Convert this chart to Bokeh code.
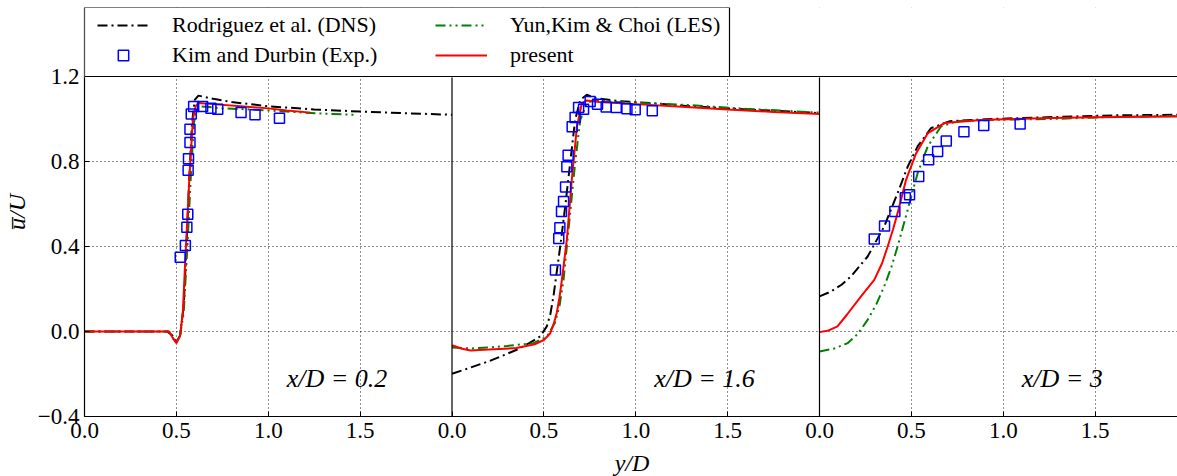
from bokeh.plotting import figure
from bokeh.models import (Range1d, FixedTicker, CustomJSTickFormatter, Span, Label,
                          Legend, LegendItem, BoxAnnotation)
from bokeh.embed import file_html
from bokeh.resources import INLINE

# ---------------- data ----------------
# x/D = 0.2
dns02_y = [0.0, 0.45, 0.48, 0.50, 0.52, 0.54, 0.555, 0.57, 0.585, 0.60, 0.62, 0.70, 0.80, 1.00, 1.25, 1.50, 1.75, 2.00]
dns02_u = [0.0, 0.0, -0.02, -0.05, -0.02, 0.12, 0.40, 0.72, 0.98, 1.09, 1.11, 1.095, 1.08, 1.06, 1.045, 1.035, 1.027, 1.02]
les02_y = [0.0, 0.46, 0.48, 0.50, 0.52, 0.54, 0.56, 0.578, 0.595, 0.61, 0.63, 0.75, 0.90, 1.10, 1.30, 1.47]
les02_u = [0.0, 0.0, -0.03, -0.05, -0.02, 0.09, 0.40, 0.72, 0.98, 1.04, 1.06, 1.05, 1.045, 1.035, 1.025, 1.02]
pre02_y = [0.0, 0.46, 0.48, 0.50, 0.52, 0.535, 0.552, 0.57, 0.59, 0.605, 0.62, 0.70, 0.85, 1.00, 1.10, 1.23]
pre02_u = [0.0, 0.0, -0.03, -0.055, -0.02, 0.09, 0.40, 0.71, 1.00, 1.06, 1.075, 1.07, 1.06, 1.05, 1.04, 1.03]
exp02_y = [0.521, 0.549, 0.557, 0.562, 0.564, 0.566, 0.574, 0.574, 0.581, 0.594, 0.643, 0.688, 0.725, 0.852, 0.928, 1.061]
exp02_u = [0.350, 0.405, 0.491, 0.552, 0.759, 0.813, 0.889, 0.952, 1.023, 1.059, 1.059, 1.051, 1.046, 1.031, 1.020, 1.004]

# x/D = 1.6
dns16_y = [0.0, 0.10, 0.20, 0.30, 0.352, 0.42, 0.48, 0.516, 0.535, 0.552, 0.57, 0.589, 0.616, 0.643, 0.670, 0.698, 0.734, 0.77, 0.90, 1.079, 1.30, 1.60, 2.00]
dns16_u = [-0.199, -0.17, -0.14, -0.105, -0.086, -0.055, -0.023, 0.024, 0.08, 0.165, 0.28, 0.40, 0.588, 0.792, 0.996, 1.09, 1.114, 1.10, 1.085, 1.075, 1.06, 1.045, 1.028]
les16_y = [0.0, 0.10, 0.20, 0.30, 0.443, 0.516, 0.56, 0.585, 0.607, 0.643, 0.670, 0.698, 0.734, 0.77, 0.90, 1.26, 1.60, 2.00]
les16_u = [-0.075, -0.08, -0.075, -0.068, -0.055, -0.025, 0.04, 0.12, 0.243, 0.557, 0.792, 0.996, 1.075, 1.087, 1.08, 1.067, 1.048, 1.03]
pre16_y = [0.0, 0.05, 0.10, 0.20, 0.35, 0.45, 0.50, 0.535, 0.555, 0.57, 0.585, 0.598, 0.625, 0.652, 0.68, 0.707, 0.734, 0.80, 1.00, 1.25, 1.50, 1.75, 2.00]
pre16_u = [-0.065, -0.08, -0.089, -0.085, -0.078, -0.06, -0.04, -0.008, 0.04, 0.087, 0.16, 0.243, 0.432, 0.714, 0.965, 1.075, 1.087, 1.08, 1.07, 1.058, 1.045, 1.033, 1.023]
exp16_y = [0.563, 0.581, 0.587, 0.596, 0.607, 0.618, 0.625, 0.632, 0.654, 0.670, 0.689, 0.716, 0.752, 0.792, 0.839, 0.894, 0.952, 0.997, 1.090]
exp16_u = [0.290, 0.438, 0.488, 0.565, 0.612, 0.680, 0.775, 0.830, 0.963, 1.007, 1.054, 1.046, 1.082, 1.070, 1.056, 1.054, 1.048, 1.043, 1.039]

# x/D = 3
dns30_y = [0.0, 0.062, 0.12, 0.171, 0.262, 0.352, 0.425, 0.48, 0.534, 0.607, 0.71, 0.93, 1.30, 1.60, 1.96]
dns30_u = [0.165, 0.188, 0.22, 0.259, 0.353, 0.494, 0.651, 0.776, 0.871, 0.957, 0.99, 1.0, 1.01, 1.017, 1.02]
les30_y = [0.0, 0.08, 0.153, 0.21, 0.262, 0.31, 0.352, 0.39, 0.425, 0.48, 0.534, 0.589, 0.661, 0.75, 1.00, 1.26, 1.60, 1.96]
les30_u = [-0.094, -0.08, -0.055, -0.01, 0.055, 0.13, 0.212, 0.30, 0.40, 0.573, 0.745, 0.871, 0.965, 0.99, 0.997, 1.0, 1.01, 1.015]
pre30_y = [0.0, 0.05, 0.098, 0.15, 0.226, 0.298, 0.34, 0.371, 0.40, 0.425, 0.471, 0.526, 0.59, 0.68, 0.90, 1.20, 1.50, 1.96]
pre30_u = [-0.003, 0.005, 0.024, 0.08, 0.165, 0.243, 0.32, 0.40, 0.48, 0.557, 0.714, 0.839, 0.934, 0.981, 0.996, 1.003, 1.008, 1.012]
exp30_y = [0.298, 0.354, 0.410, 0.467, 0.490, 0.540, 0.594, 0.643, 0.690, 0.786, 0.894, 1.092]
exp30_u = [0.435, 0.497, 0.565, 0.629, 0.643, 0.729, 0.808, 0.847, 0.896, 0.940, 0.969, 0.977]

panel_labels = ["x/D = 0.2", "x/D = 1.6", "x/D = 3"]
legend_labels = ["Rodriguez et al. (DNS)", "Kim and Durbin (Exp.)", "Yun,Kim & Choi (LES)", "present"]
y_ticks = [-0.4, 0.0, 0.4, 0.8, 1.2]
x_ticks_panel = [0.0, 0.5, 1.0, 1.5]

# ---------------- styles / geometry ----------------
FONT = "Liberation Serif"
DNS = dict(line_color="black", line_width=2, line_dash="10 4 2 4")
LES = dict(line_color="#008000", line_width=2, line_dash="10 4 2 4 2 4")
PRE = dict(line_color="#ff0000", line_width=2)
EXP = dict(marker="square", size=10, line_color="#0000ff", fill_color=None, line_width=1.5)

LEFT = 82                 # left border (px)
FRAME_W = 1095            # frame width (px)
PANEL_H = 340             # height of the data panels (px)
LEG_H = 69                # height of the legend strip above the panels (px)
LEG_W = 645               # width of the legend box (px)
PX_X = 183.75             # px per y/D unit
PX_Y = PANEL_H / 1.6      # px per u/U unit
PANEL = 2.0
XMAX = FRAME_W / PX_X
YMIN, YPANEL = -0.4, 1.2
YTOP = YPANEL + LEG_H / PX_Y

p = figure(frame_width=FRAME_W, frame_height=PANEL_H + LEG_H,
           x_range=Range1d(0, XMAX), y_range=Range1d(YMIN, YTOP),
           output_backend="svg", toolbar_location=None,
           min_border_left=LEFT, min_border_right=0, min_border_top=7,
           min_border_bottom=60)
p.extra_x_ranges = {
    "p2": Range1d(-PANEL, XMAX - PANEL),
    "p3": Range1d(-2 * PANEL, XMAX - 2 * PANEL),
}
p.outline_line_color = None

all_xticks = [k * PANEL + t for k in range(3) for t in x_ticks_panel if k * PANEL + t < XMAX]
p.xaxis.ticker = FixedTicker(ticks=all_xticks)
p.xaxis.formatter = CustomJSTickFormatter(code="return (Math.abs(tick % 2) < 1e-9 ? 0 : tick % 2).toFixed(1)")
p.yaxis.ticker = FixedTicker(ticks=y_ticks)
p.yaxis.formatter = CustomJSTickFormatter(code="return tick < 0 ? '\u2212' + (-tick).toFixed(1) : tick.toFixed(1)")

grid_x = [t for t in all_xticks if abs(t % PANEL) > 1e-9]
p.xgrid.ticker = FixedTicker(ticks=grid_x)
p.ygrid.ticker = FixedTicker(ticks=y_ticks)
for g in (p.xgrid, p.ygrid):
    g.grid_line_color = "black"
    g.grid_line_dash = "1 3"
    g.grid_line_width = 1
    g.grid_line_alpha = 0.9

for ax in (p.xaxis, p.yaxis):
    ax.major_tick_in = 5
    ax.major_tick_out = 0
    ax.minor_tick_line_color = None
    ax.axis_line_color = "black"
    ax.axis_line_width = 1.2
    ax.major_tick_line_color = "black"
    ax.major_label_text_font = FONT
    ax.major_label_text_font_size = "23px"
    ax.major_label_text_color = "black"
    ax.axis_label_text_font = FONT
    ax.axis_label_text_font_size = "24px"
    ax.axis_label_text_font_style = "italic"
    ax.axis_label_text_color = "black"

p.xaxis.major_label_standoff = 6
p.xaxis.axis_label = "y/D"
p.xaxis.axis_label_standoff = 9
p.yaxis.major_label_standoff = 5
p.yaxis.axis_label = "u\u0305/U"
p.yaxis.axis_label_standoff = 5

panels = [
    ("default", dns02_y, dns02_u, les02_y, les02_u, pre02_y, pre02_u, exp02_y, exp02_u),
    ("p2", dns16_y, dns16_u, les16_y, les16_u, pre16_y, pre16_u, exp16_y, exp16_u),
    ("p3", dns30_y, dns30_u, les30_y, les30_u, pre30_y, pre30_u, exp30_y, exp30_u),
]
handles = []
for (rn, dy, du, ly, lu, py, pu, ey, eu), txt in zip(panels, panel_labels):
    r_d = p.line(dy, du, x_range_name=rn, **DNS)
    r_l = p.line(ly, lu, x_range_name=rn, **LES)
    r_p = p.line(py, pu, x_range_name=rn, **PRE)
    r_e = p.scatter(ey, eu, x_range_name=rn, **EXP)
    handles.append((r_d, r_e, r_l, r_p))
    p.add_layout(Label(x=1.1, y=-0.22, x_range_name=rn, text=txt, text_font=FONT,
                       text_font_size="26px", text_font_style="italic",
                       text_baseline="middle", text_color="black"))

# panel separators
for k in (1, 2):
    p.add_layout(Span(location=k * PANEL, dimension="height", line_color="black", line_width=1.2))

# blank strip above the panels (hides grid / separators there)
p.add_layout(BoxAnnotation(bottom=YPANEL, top=YTOP + 0.05, fill_color="white", fill_alpha=1,
                           line_color="white", line_width=2, line_alpha=1))
# top spine of the panels
p.add_layout(Span(location=YPANEL, dimension="width", line_color="black", line_width=1.2))
# legend frame
p.add_layout(BoxAnnotation(bottom=YPANEL, right=LEG_W / PX_X, fill_alpha=0,
                           line_color="black", line_width=1.2, line_alpha=1))

# ---------------- legend ----------------
r_d, r_e, r_l, r_p = handles[0]
leg_common = dict(label_text_font=FONT, label_text_font_size="22px", label_text_color="black",
                  glyph_width=52, glyph_height=26, label_height=26, label_standoff=23,
                  spacing=4, padding=0, margin=0, border_line_color=None,
                  background_fill_alpha=0)
leg_y = PANEL_H + 8
leg1 = Legend(items=[LegendItem(label=legend_labels[0], renderers=[r_d]),
                     LegendItem(label=legend_labels[1], renderers=[r_e])],
              location=(13, leg_y), **leg_common)
leg2 = Legend(items=[LegendItem(label=legend_labels[2], renderers=[r_l]),
                     LegendItem(label=legend_labels[3], renderers=[r_p])],
              location=(351, leg_y), **leg_common)
p.add_layout(leg1)
p.add_layout(leg2)

open("out.html", "w").write(file_html(p, INLINE))
